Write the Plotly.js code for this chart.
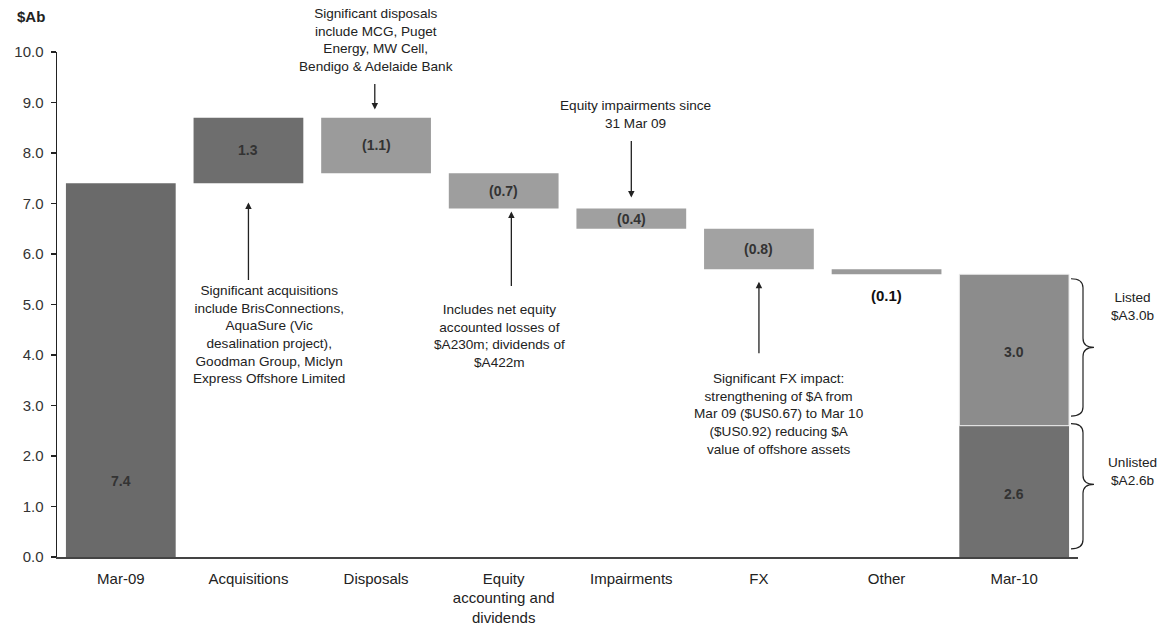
<!DOCTYPE html>
<html><head><meta charset="utf-8">
<script src="https://cdn.plot.ly/plotly-3.0.1.min.js"></script>
<style>html,body{margin:0;padding:0;background:#fff}#chart{width:1163px;height:631px}</style>
</head><body><div id="chart"></div>
<script>
// ---- data ----
const categories = ['Mar-09','Acquisitions','Disposals','Equity<br>accounting and<br>dividends','Impairments','FX','Other','Mar-10'];
const openingValue = 7.4;
const changeValues = [1.3, -1.1, -0.7, -0.4, -0.8, -0.1];
const closingUnlisted = 2.6;
const closingListed = 3.0;
const yTickValues = [0,1,2,3,4,5,6,7,8,9,10];

// ---- styles ----
const changeColors = ['#6e6e6e','#9b9b9b','#9e9e9e','#a0a0a0','#a2a2a2','#9a9a9a'];
const FONT = 'Liberation Sans, Arial, sans-serif';
const fmt = v => v < 0 ? '(' + Math.abs(v).toFixed(1) + ')' : v.toFixed(1);

// running bases
const bases = [];
let run = openingValue;
changeValues.forEach(v => { bases.push(run); run += v; });

const changeCats = categories.slice(1, 7);
const traces = [
  {type:'bar', x:[categories[0]], y:[openingValue], marker:{color:'#6a6a6a'}, width:0.86, hoverinfo:'skip'},
  {type:'bar', x:changeCats, y:changeValues, base:bases, marker:{color:changeColors}, width:0.86, hoverinfo:'skip'},
  {type:'bar', x:[categories[7]], y:[closingUnlisted], marker:{color:'#707070'}, width:0.86, hoverinfo:'skip'},
  {type:'bar', x:[categories[7]], y:[closingListed], base:[closingUnlisted], marker:{color:'#8c8c8c', line:{color:'#f0f0f0', width:1}}, width:0.86, hoverinfo:'skip'}
];

const annotations = [];
const lblFont = {family:FONT, size:14, color:'#333'};
const C = {xanchor:'center', yanchor:'middle', showarrow:false};
// value labels
annotations.push(Object.assign({x:0, y:1.5, xref:'x', yref:'y', text:'<b>'+fmt(openingValue)+'</b>', font:lblFont}, C));
changeValues.forEach((v,i) => {
  if (i === 5) {
    annotations.push(Object.assign({x:i+1, y:5.18, xref:'x', yref:'y', text:'<b>'+fmt(v)+'</b>', font:{family:FONT, size:15, color:'#111'}}, C));
  } else {
    annotations.push(Object.assign({x:i+1, y:bases[i]+v/2, xref:'x', yref:'y', text:'<b>'+fmt(v)+'</b>', font:lblFont}, C));
  }
});
annotations.push(Object.assign({x:7, y:closingUnlisted/2 - 0.05, xref:'x', yref:'y', text:'<b>'+fmt(closingUnlisted)+'</b>', font:lblFont}, C));
annotations.push(Object.assign({x:7, y:closingUnlisted + closingListed/2 - 0.05, xref:'x', yref:'y', text:'<b>'+fmt(closingListed)+'</b>', font:lblFont}, C));

const noteFont = {family:FONT, size:13.6, color:'#222'};
const note = (o) => Object.assign({font:noteFont, align:'center'}, C, o);
// notes
annotations.push(note({x:1.16, y:4.4, xref:'x', yref:'y',
  text:'Significant acquisitions<br>include BrisConnections,<br>AquaSure (Vic<br>desalination project),<br>Goodman Group, Miclyn<br>Express Offshore Limited'}));
annotations.push(note({x:(376-57)/1021, y:(557.5-40.5)/505, xref:'paper', yref:'paper',
  text:'Significant disposals<br>include MCG, Puget<br>Energy, MW Cell,<br>Bendigo &amp; Adelaide Bank'}));
annotations.push(note({x:2.97, y:4.38, xref:'x', yref:'y',
  text:'Includes net equity<br>accounted losses of<br>$A230m; dividends of<br>$A422m'}));
annotations.push(note({x:4.03, y:8.77, xref:'x', yref:'y',
  text:'Equity impairments since<br>31 Mar 09'}));
annotations.push(note({x:5.16, y:2.84, xref:'x', yref:'y',
  text:'Significant FX impact:<br>strengthening of $A from<br>Mar 09 ($US0.67) to Mar 10<br>($US0.92) reducing $A<br>value of offshore assets'}));
annotations.push(note({x:(1132-57)/1021, y:4.96, xref:'paper', yref:'y', text:'Listed<br>$A3.0b'}));
annotations.push(note({x:(1132-57)/1021, y:1.69, xref:'paper', yref:'y', text:'Unlisted<br>$A2.6b'}));
annotations.push(Object.assign({x:(31-57)/1021, y:(557.5-17)/505, xref:'paper', yref:'paper', text:'<b>$Ab</b>', font:{family:FONT, size:15, color:'#222'}}, C));

// arrows
const arrow = (x, y, ay) => ({x:x, y:y, xref:'x', yref:'y', ax:0, ay:ay, text:'', showarrow:true, arrowhead:2, arrowsize:1, arrowwidth:1.3, arrowcolor:'#222'});
annotations.push(arrow(1.0, 7.02, 79));
annotations.push(arrow(1.99, 8.86, -27));
annotations.push(arrow(3.06, 6.84, 76));
annotations.push(arrow(4.0, 7.12, -58));
annotations.push(arrow(5.0, 5.45, 73));

// braces
const px = p => (p - 57) / 1021;
function brace(yt, ym, yb) {
  const x0 = px(1071), x1 = px(1083), x2 = px(1094), d = 0.18;
  return {type:'path', xref:'paper', yref:'y', line:{color:'#222', width:1.2},
    path:`M ${x0},${yt} Q ${x1},${yt} ${x1},${yt-d} L ${x1},${ym+d} Q ${x1},${ym} ${x2},${ym} Q ${x1},${ym} ${x1},${ym-d} L ${x1},${yb+d} Q ${x1},${yb} ${x0},${yb}`};
}
const shapes = [brace(5.51, 4.15, 2.79), brace(2.64, 1.44, 0.16)];

const layout = {
  width:1163, height:631,
  margin:{l:57, r:85, t:52, b:74},
  paper_bgcolor:'#fff', plot_bgcolor:'#fff',
  barmode:'overlay', showlegend:false,
  font:{family:FONT, color:'#222'},
  xaxis:{type:'category', categoryarray:categories, range:[-0.5,7.5], showgrid:false, zeroline:false,
    showline:true, linecolor:'#444', linewidth:1.5, ticks:'', tickfont:{family:FONT, size:15, color:'#222'}, ticklabelstandoff:7, fixedrange:true},
  yaxis:{range:[0,10], tickvals:yTickValues, ticktext:yTickValues.map(v=>v.toFixed(1)), showgrid:false, zeroline:false,
    showline:true, linecolor:'#222', linewidth:1.5, ticks:'outside', ticklen:5, tickcolor:'#222', tickwidth:1.2,
    tickfont:{family:FONT, size:15, color:'#333'}, ticklabelstandoff:4, fixedrange:true},
  annotations:annotations, shapes:shapes
};
Plotly.newPlot('chart', traces, layout, {displayModeBar:false, staticPlot:true});
</script></body></html>
